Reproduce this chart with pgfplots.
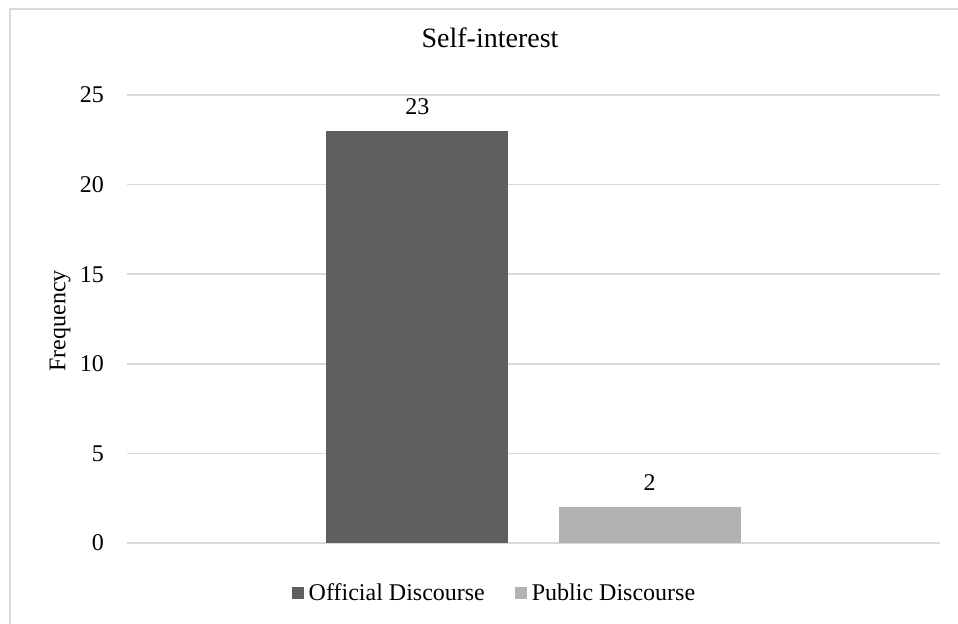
\documentclass[border=0pt]{standalone}
\usepackage{pgfplots}
\pgfplotsset{compat=1.18}
\usepackage{fontspec}
\setmainfont{Liberation Serif}
\definecolor{darkbar}{HTML}{5F5F5F}
\definecolor{lightbar}{HTML}{B2B2B2}
\definecolor{gridc}{HTML}{D9D9D9}
\newcommand\fs{\fontsize{24bp}{29bp}\selectfont}
\begin{document}
\begin{tikzpicture}
\useasboundingbox (-127bp,-81bp) rectangle (831bp,543bp);
\draw[gridc, line width=2bp] (-117bp,-100bp) -- (-117bp,534bp) -- (860bp,534bp);
\begin{axis}[
  at={(0,0)}, anchor=south west,
  scale only axis, width=813bp, height=448bp,
  xmin=0, xmax=1, ymin=0, ymax=25,
  ytick={0,5,10,15,20,25}, xtick=\empty,
  ymajorgrids, grid style={gridc, line width=1.5bp},
  axis line style={draw=none}, major tick length=0pt,
  /pgf/number format/assume math mode=true,
  yticklabel style={font=\fs, inner sep=0pt, xshift=-23bp},
  title={Self-interest},
  title style={font=\fontsize{28bp}{34bp}\selectfont, at={(axis description cs:0.4465,1.0938)}, anchor=base, inner sep=0pt},
  ylabel={Frequency},
  ylabel style={font=\fs, at={(axis description cs:-0.0824,0.496)}, anchor=center, inner sep=0pt},
  nodes near coords,
  every node near coord/.append style={font=\fs, anchor=south, inner sep=0pt, yshift=16bp},
  legend image code/.code={\fill[#1] (0bp,-6bp) rectangle (12bp,6bp); \path (15bp,0bp);},
  legend style={at={(axis description cs:0.452,-0.1116)}, anchor=center, draw=none, font=\fs,
    /tikz/every even column/.append style={column sep=28bp}},
  legend columns=2, legend cell align=left,
]
\addplot[ybar, bar width=182bp, bar shift=0pt, fill=darkbar, draw=none] coordinates {(0.3573,23)};
\addplot[ybar, bar width=182bp, bar shift=0pt, fill=lightbar, draw=none] coordinates {(0.6427,2)};
\legend{Official Discourse, Public Discourse}
\end{axis}
\end{tikzpicture}
\end{document}
